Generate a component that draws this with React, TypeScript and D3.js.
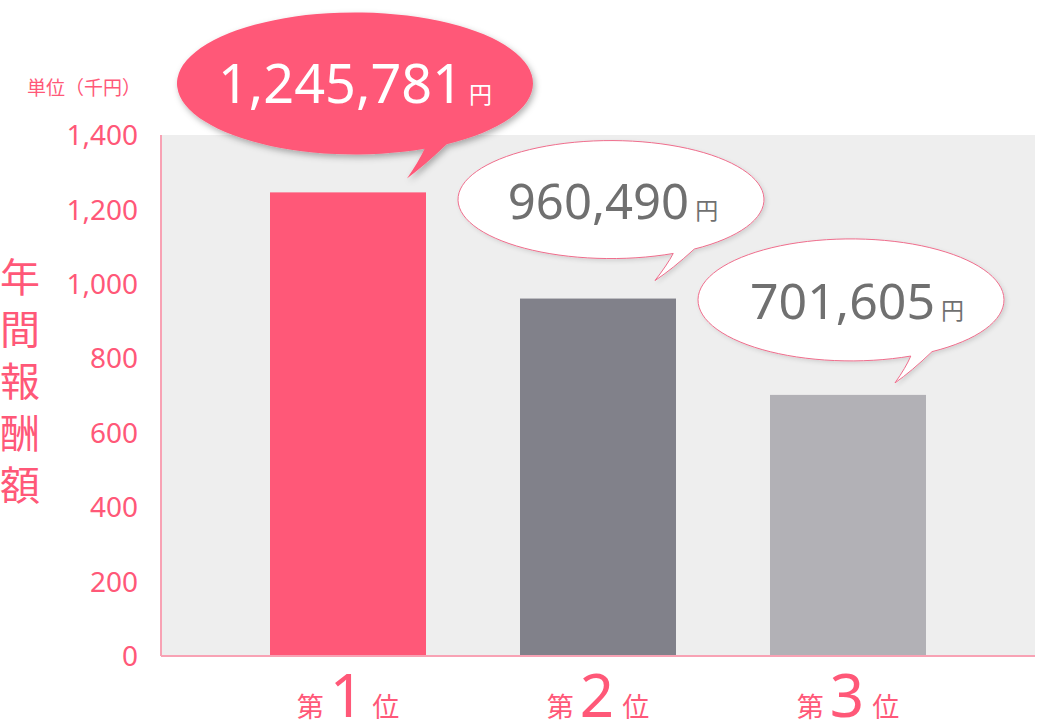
import React from "react";
import * as d3 from "d3";

const categories = ["1", "2", "3"];
const valuesYen = [1245781, 960490, 701605];
const tickValues = [0, 200, 400, 600, 800, 1000, 1200, 1400];
const barColors = ["#ff5878", "#81818a", "#b2b1b6"];
const unitLabel = "単位（千円）";
const yTitle = ["年", "間", "報", "酬", "額"];

const W = 1039;
const H = 723;
const PINK = "#ff5878";
const AXIS_PINK = "#f8a2b4";
const JP = "'Noto Sans CJK JP', 'Noto Sans', sans-serif";
const NUM = "'Noto Sans', 'Open Sans', sans-serif";

// bubble layout (relative to bar centre / bar top)
const bubbleLayout = [
  { dx: 7, dy: -109, rx: 178, ry: 71, a1: 67, a2: 59, tip: [52, 95], fill: PINK, text: "#ffffff", fs: 54, stroke: "none", tdx: 0 },
  { dx: 13, dy: -99, rx: 153, ry: 59, a1: 66, a2: 57, tip: [44, 81], fill: "#ffffff", text: "#707070", fs: 49, stroke: "#ef6d8c", tdx: 2 },
  { dx: 3, dy: -95, rx: 153, ry: 61, a1: 67, a2: 58, tip: [44, 83], fill: "#ffffff", text: "#707070", fs: 50, stroke: "#ef6d8c", tdx: 6 },
];

function bubblePath(rx: number, ry: number, a1: number, a2: number, tip: number[]) {
  const r = Math.PI / 180;
  const p1 = [rx * Math.cos(a1 * r), ry * Math.sin(a1 * r)];
  const p2 = [rx * Math.cos(a2 * r), ry * Math.sin(a2 * r)];
  const [tx, ty] = tip;
  const c1 = [(p2[0] + tx) / 2 - 2, (p2[1] + ty) / 2 + 4];
  const c2 = [(p1[0] + tx) / 2 + 3, (p1[1] + ty) / 2 - 2];
  return `M${p1[0]},${p1[1]} A${rx},${ry} 0 1 1 ${p2[0]},${p2[1]} Q${c1[0]},${c1[1]} ${tx},${ty} Q${c2[0]},${c2[1]} ${p1[0]},${p1[1]} Z`;
}

export default function App() {
  const plotLeft = 161;
  const plotRight = 1035;
  const plotTop = 135;
  const plotBottom = 656;

  const y = d3.scaleLinear().domain([0, 1400]).range([plotBottom, plotTop]);
  const x = d3
    .scaleBand<string>()
    .domain(categories)
    .range([223, 973])
    .paddingInner(0.376)
    .paddingOuter(0.188);
  const fmt = d3.format(",");

  return (
    <svg width={W} height={H} style={{ position: "absolute", left: 0, top: 0 }}>
      <defs>
        <filter id="sh" x="-20%" y="-20%" width="140%" height="150%">
          <feDropShadow dx="2" dy="3" stdDeviation="3" floodColor="#000" floodOpacity="0.3" />
        </filter>
        <filter id="sh2" x="-20%" y="-20%" width="140%" height="150%">
          <feDropShadow dx="2" dy="2" stdDeviation="2" floodColor="#000" floodOpacity="0.12" />
        </filter>
      </defs>
      <rect x={plotLeft} y={plotTop} width={plotRight - plotLeft} height={plotBottom - plotTop} fill="#eeeeee" />

      {categories.map((c, i) => {
        const v = valuesYen[i] / 1000;
        return (
          <rect
            key={c}
            x={x(c)}
            y={y(v)}
            width={x.bandwidth()}
            height={plotBottom - y(v)}
            fill={barColors[i]}
          />
        );
      })}

      <line x1={plotLeft} x2={plotLeft} y1={plotTop} y2={plotBottom} stroke={AXIS_PINK} strokeWidth={2} />
      <line x1={plotLeft} x2={plotRight} y1={plotBottom} y2={plotBottom} stroke={AXIS_PINK} strokeWidth={2} />

      {tickValues.map((t) => (
        <text
          key={t}
          x={138}
          y={y(t)}
          dy="0.36em"
          textAnchor="end"
          fill={PINK}
          fontFamily={NUM}
          fontSize={28}
        >
          {fmt(t)}
        </text>
      ))}

      <text x={27} y={95} fill={PINK} fontFamily={JP} fontSize={19}>
        {unitLabel}
      </text>

      {yTitle.map((ch, i) => (
        <text key={ch} x={20} y={292 + i * 52} textAnchor="middle" fill={PINK} fontFamily={JP} fontSize={40}>
          {ch}
        </text>
      ))}

      {categories.map((c) => {
        const cx = (x(c) as number) + x.bandwidth() / 2;
        return (
          <text key={"lab" + c} x={cx} y={717} textAnchor="middle" fill={PINK} fontFamily={JP}>
            <tspan fontSize={27}>第</tspan>
            <tspan fontSize={60} fontFamily={NUM} dx={6}>
              {c}
            </tspan>
            <tspan fontSize={27} dx={8}>位</tspan>
          </text>
        );
      })}

      {categories.map((c, i) => {
        const b = bubbleLayout[i];
        const cx = (x(c) as number) + x.bandwidth() / 2 + b.dx;
        const cy = y(valuesYen[i] / 1000) + b.dy;
        return (
          <g key={"b" + c} transform={`translate(${cx},${cy})`}>
            <path
              d={bubblePath(b.rx, b.ry, b.a1, b.a2, b.tip)}
              fill={b.fill}
              stroke={b.stroke}
              strokeWidth={1}
              filter={i === 0 ? "url(#sh)" : "url(#sh2)"}
            />
            <text x={b.tdx} y={i === 0 ? 20 : 19} textAnchor="middle" fill={b.text} fontFamily={NUM}>
              <tspan fontSize={b.fs}>{fmt(valuesYen[i])}</tspan>
              <tspan fontSize={23} fontFamily={JP} dx={6}>円</tspan>
            </text>
          </g>
        );
      })}
    </svg>
  );
}
